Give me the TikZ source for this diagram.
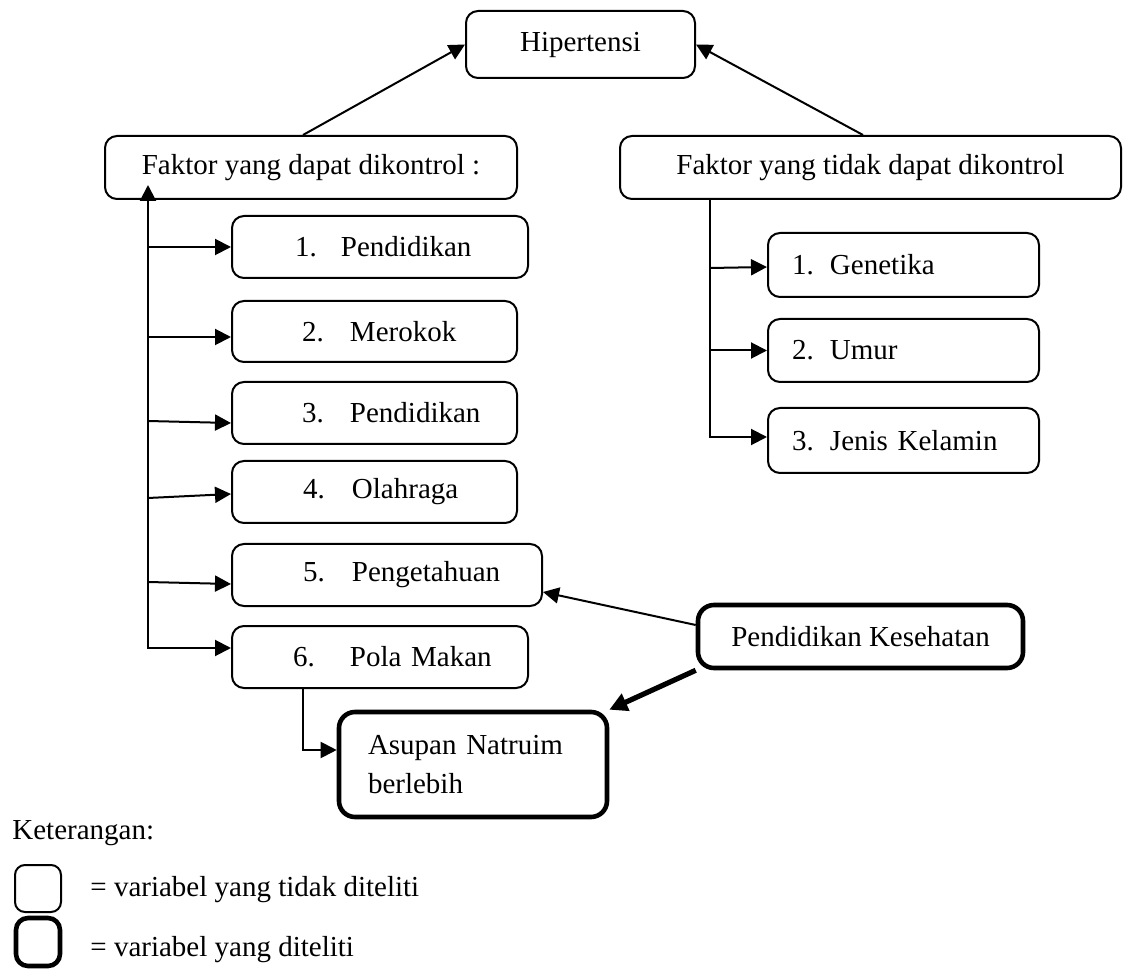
\documentclass[tikz,border=0pt]{standalone}
\usepackage{fontspec}
\setmainfont{Liberation Serif}
\usetikzlibrary{arrows.meta,calc}
\tikzset{
 box/.style={draw, line width=1pt, rounded corners=6pt, inner sep=0pt, font=\fontsize{14.5}{17}\selectfont},
 thickbox/.style={box, line width=2.3pt, rounded corners=8pt},
 itembox/.style={box, text width=#1, align=left},
 arr/.style={line width=1pt, -{Triangle[length=8pt,width=8pt]}},
 dblarr/.style={line width=1pt, {Triangle[length=8pt,width=8pt]}-{Triangle[length=8pt,width=8pt]}},
 thickarr/.style={line width=2.6pt, -{Triangle[length=9pt,width=9pt]}},
 txt/.style={inner sep=0pt, font=\fontsize{14.5}{17}\selectfont},
}
\newcommand\itemtext[4]{\hspace*{#1}\makebox[#2][l]{#3}#4}
\begin{document}
\begin{tikzpicture}[x=0.5pt,y=-0.5pt]
\useasboundingbox (0,0) rectangle (1124,972);

% top
\node[box, minimum width=114.5pt, minimum height=33.5pt] (hip) at (580.5,44.5) {Hipertensi};
\node[box, minimum width=206pt, minimum height=31.5pt] (fd) at (311,167.5) {Faktor yang dapat dikontrol :};
\node[box, minimum width=250.5pt, minimum height=31.5pt] (ft) at (870.5,167.5) {Faktor yang tidak dapat dikontrol};

% left items
\node[itembox=148pt, minimum height=31pt] (b1) at (380,247) {\itemtext{31.5pt}{23pt}{1.}{Pendidikan}};
\node[itembox=142.5pt, minimum height=30.5pt] (b2) at (374.5,331.5) {\itemtext{35pt}{24pt}{2.}{Merokok}};
\node[itembox=142.5pt, minimum height=31pt] (b3) at (374.5,413) {\itemtext{35pt}{24pt}{3.}{Pendidikan}};
\node[itembox=142.5pt, minimum height=31pt] (b4) at (374.5,492) {\itemtext{35.5pt}{24.5pt}{4.}{Olahraga}};
\node[itembox=155pt, minimum height=31pt] (b5) at (387,575) {\itemtext{35.5pt}{24.5pt}{5.}{Pengetahuan}};
\node[itembox=148pt, minimum height=31pt] (b6) at (380,657) {\itemtext{30.5pt}{28.5pt}{6.}{Pola Makan}};

% right items
\node[itembox=135.5pt, minimum height=32pt] (g1) at (903.5,265) {\itemtext{12pt}{19pt}{1.}{Genetika}};
\node[itembox=135.5pt, minimum height=31.5pt] (g2) at (903.5,350.5) {\itemtext{12pt}{19pt}{2.}{Umur}};
\node[itembox=135.5pt, minimum height=32.5pt] (g3) at (903.5,440.5) {\itemtext{12pt}{19pt}{3.}{Jenis Kelamin}};

% studied variables
\node[thickbox, minimum width=162.5pt, minimum height=31.5pt] (pk) at (860.5,636.5) {Pendidikan Kesehatan};
\node[thickbox, text width=134pt, align=left, minimum height=52.5pt,
      font=\fontsize{14.5}{19.5}\selectfont] (as) at (473,764.5)
      {\hspace*{14.5pt}Asupan Natruim\\\hspace*{14.5pt}berlebih};

% legend
\node[txt, anchor=west] (ket) at (12,833) {Keterangan:};
\node[box, minimum width=23pt, minimum height=23.5pt, rounded corners=5pt] (l1) at (38,888.5) {};
\node[thickbox, minimum width=22pt, minimum height=24pt, rounded corners=6pt] (l2) at (38,942) {};
\node[txt, anchor=west] (t1) at (90,890) {= variabel yang tidak diteliti};
\node[txt, anchor=west] (t2) at (90,950) {= variabel yang diteliti};

% connectors to top
\draw[arr] ([xshift=-4pt]fd.north) -- (hip.west);
\draw[arr] ([xshift=-3.75pt]ft.north) -- (hip.east);

% left trunk
\coordinate (lt) at (148,185);
\coordinate (b6a) at ([yshift=4.5pt]b6.west);
\draw[dblarr] (lt) -- (lt |- b6a) -- (b6a);
\draw[arr] (lt |- b1.west) -- (b1.west);
\draw[arr] ($(lt |- b2.west)+(0,5.5)$) -- ([yshift=-2.75pt]b2.west);
\draw[arr] ($(lt |- b3.west)+(0,8)$) -- ([yshift=-5pt]b3.west);
\draw[arr] ($(lt |- b4.west)+(0,6)$) -- ([yshift=-1pt]b4.west);
\draw[arr] ($(lt |- b5.west)+(0,7)$) -- ([yshift=-4.5pt]b5.west);

% right trunk
\coordinate (rt) at (710,199);
\coordinate (g3a) at ([yshift=1.75pt]g3.west);
\draw[arr] (rt) -- (rt |- g3a) -- (g3a);
\draw[arr] ($(rt |- g1.west)+(0,3)$) -- ([yshift=-1pt]g1.west);
\draw[arr] (rt |- g2.west) -- (g2.west);

% pola makan -> asupan
\draw[arr] ([xshift=-38.5pt]b6.south) |- ([yshift=7.25pt]as.west);

% pendidikan kesehatan
\draw[arr] ([yshift=5.75pt]pk.west) -- ([yshift=-8.5pt]b5.east);
\draw[thickarr] (pk.south west) -- (as.north east);
\end{tikzpicture}
\end{document}
